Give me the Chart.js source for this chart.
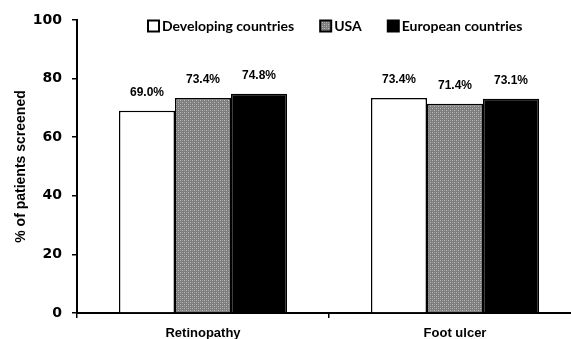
<!DOCTYPE html>
<html lang="en">
<head>
<meta charset="UTF-8">
<title>% of patients screened</title>
<script src="https://cdn.jsdelivr.net/npm/chart.js"></script>
<style>
    html, body { margin: 0; padding: 0; background: #ffffff; overflow: hidden; }
    #wrap { width: 581px; height: 339px; }
</style>
</head>
<body>
<div id="wrap"><canvas id="barChart" width="581" height="339"></canvas></div>
<script>
    // data
    const categories = ['Retinopathy', 'Foot ulcer'];
    const seriesNames = ['Developing countries', 'USA', 'European countries'];
    const developing = [69.0, 73.4];
    const usa = [73.4, 71.4];
    const european = [74.8, 73.1];
    const yTicks = [0, 20, 40, 60, 80, 100];

    // grey checkered fill for the USA bars
    const makePattern = () => {
        const c = document.createElement('canvas');
        c.width = 4; c.height = 4;
        const g = c.getContext('2d');
        g.fillStyle = '#7d7d7d';
        g.fillRect(0, 0, 4, 4);
        g.fillStyle = '#bdbdbd';
        g.fillRect(0, 0, 1, 1);
        g.fillRect(2, 2, 1, 1);
        g.fillStyle = '#9a9a9a';
        g.fillRect(2, 0, 1, 1);
        g.fillRect(0, 2, 1, 1);
        return g.createPattern(c, 'repeat');
    };
    const usaFill = makePattern();
    const fills = ['#ffffff', usaFill, '#000000'];

    // value labels above each bar
    const valueLabels = {
        id: 'valueLabels',
        afterDatasetsDraw(chart) {
            const ctx = chart.ctx;
            ctx.save();
            ctx.font = 'bold 12px "Liberation Sans", Arial, sans-serif';
            ctx.fillStyle = '#000';
            ctx.textAlign = 'center';
            ctx.textBaseline = 'middle';
            chart.data.datasets.forEach((ds, i) => {
                chart.getDatasetMeta(i).data.forEach((bar, j) => {
                    ctx.fillText(ds.data[j].toFixed(1) + '%', bar.x, bar.y - 18);
                });
            });
            ctx.restore();
        }
    };

    // legend drawn over the top of the plot
    const topLegend = {
        id: 'topLegend',
        afterDraw(chart) {
            const ctx = chart.ctx;
            ctx.save();
            ctx.font = 'bold 14px Lato, "Open Sans", sans-serif';
            ctx.textBaseline = 'middle';
            const box = 11, gap = 3, spacing = 26, y = 26;
            let x = 148;
            chart.data.datasets.forEach((ds, i) => {
                ctx.fillStyle = fills[i];
                ctx.fillRect(x, y - box / 2, box, box);
                ctx.lineWidth = 2;
                ctx.strokeStyle = '#000';
                ctx.strokeRect(x, y - box / 2, box, box);
                ctx.fillStyle = '#000';
                ctx.fillText(ds.label, x + box + gap, y);
                x += box + gap + ctx.measureText(ds.label).width + spacing;
            });
            ctx.restore();
        }
    };

    const barCtx = document.getElementById('barChart').getContext('2d');
    new Chart(barCtx, {
        type: 'bar',
        data: {
            labels: categories,
            datasets: [
                { label: seriesNames[0], data: developing, backgroundColor: fills[0] },
                { label: seriesNames[1], data: usa, backgroundColor: fills[1] },
                { label: seriesNames[2], data: european, backgroundColor: fills[2] }
            ].map(d => Object.assign(d, {
                borderColor: '#000',
                borderWidth: 1.5,
                borderSkipped: 'bottom',
                categoryPercentage: 0.667,
                barPercentage: 1
            }))
        },
        options: {
            responsive: false,
            animation: false,
            devicePixelRatio: 1,
            layout: { padding: { top: 20, left: 0, right: 0, bottom: 0 } },
            plugins: {
                legend: { display: false },
                tooltip: { enabled: false }
            },
            scales: {
                x: {
                    offset: true,
                    grid: {
                        offset: true,
                        drawOnChartArea: false,
                        tickLength: 5,
                        color: '#000',
                        lineWidth: 1.5
                    },
                    border: { color: '#000', width: 2 },
                    ticks: {
                        padding: 8,
                        color: '#000',
                        font: { family: '"Liberation Sans", Arial, sans-serif', size: 13, weight: 'bold' }
                    },
                    afterFit(scale) { scale.height = 26; }
                },
                y: {
                    min: 0,
                    max: 100,
                    afterBuildTicks(scale) { scale.ticks = yTicks.map(v => ({ value: v })); },
                    grid: {
                        drawOnChartArea: false,
                        tickLength: 5,
                        color: '#000',
                        lineWidth: 1.5
                    },
                    border: { color: '#000', width: 2 },
                    ticks: {
                        padding: 10,
                        color: '#000',
                        font: { family: '"DejaVu Sans", sans-serif', size: 14, weight: 'bold' }
                    },
                    title: {
                        display: true,
                        text: '% of patients screened',
                        color: '#000',
                        padding: { top: 13, bottom: 0 },
                        font: { family: '"Liberation Sans", Arial, sans-serif', size: 14, weight: 'bold' }
                    },
                    afterFit(scale) { scale.width = 77; }
                }
            }
        },
        plugins: [valueLabels, topLegend]
    });
</script>
</body>
</html>
